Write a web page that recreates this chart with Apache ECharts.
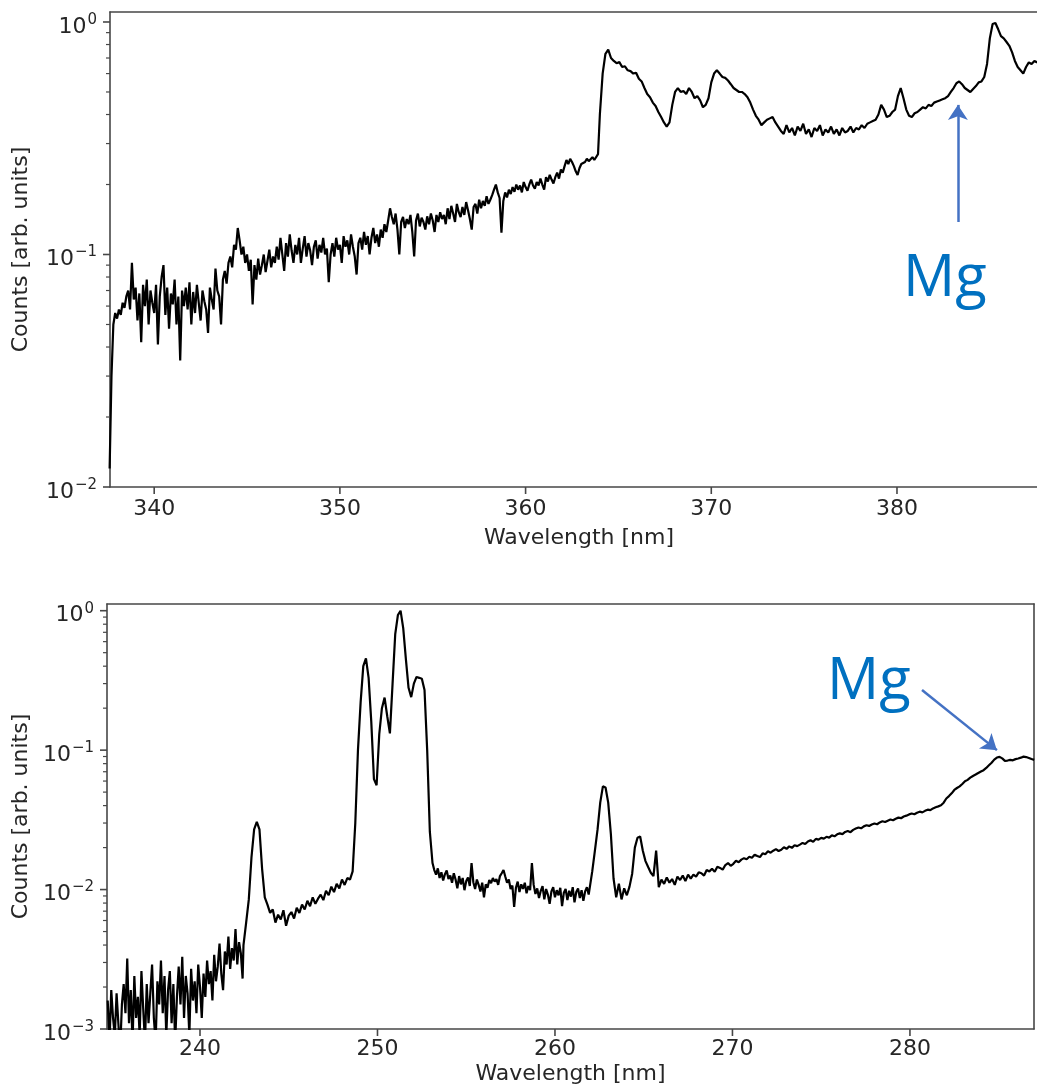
<!DOCTYPE html>
<html><head><meta charset="utf-8">
<script src="https://cdn.jsdelivr.net/npm/echarts@6/dist/echarts.min.js"></script>
<style>html,body{margin:0;padding:0;background:#fff}#c{width:1037px;height:1085px}</style>
</head><body><div id="c"></div>
<script>
// ================= TOP SPECTRUM =================
// segment 1: 337.6 nm .. 363.9 nm, 0.1 nm sampling
const topSeg1Start = 337.6, topSeg1Step = 0.1;
const topSeg1Counts = [
0.012,0.03,0.05,0.056,0.053,0.058,0.055,0.062,0.059,0.066,
0.07,0.058,0.092,0.064,0.072,0.052,0.068,0.042,0.074,0.06,
0.078,0.05,0.07,0.062,0.056,0.074,0.041,0.066,0.08,0.09,
0.055,0.072,0.048,0.068,0.061,0.078,0.05,0.066,0.035,0.07,
0.06,0.072,0.058,0.076,0.05,0.069,0.056,0.074,0.062,0.052,
0.07,0.063,0.058,0.046,0.072,0.064,0.058,0.087,0.07,0.066,
0.05,0.078,0.085,0.075,0.092,0.098,0.088,0.11,0.105,0.13,
0.115,0.1,0.108,0.092,0.1,0.085,0.095,0.061,0.09,0.078,
0.096,0.082,0.09,0.1,0.084,0.094,0.105,0.088,0.098,0.092,
0.108,0.095,0.118,0.1,0.085,0.112,0.098,0.122,0.104,0.092,
0.11,0.1,0.118,0.092,0.106,0.12,0.098,0.112,0.104,0.09,
0.108,0.115,0.096,0.11,0.102,0.118,0.1,0.106,0.076,0.1,
0.112,0.098,0.118,0.105,0.11,0.092,0.12,0.108,0.115,0.1,
0.122,0.108,0.098,0.082,0.112,0.118,0.105,0.125,0.11,0.12,
0.1,0.118,0.13,0.112,0.122,0.108,0.128,0.118,0.135,0.125,
0.14,0.158,0.145,0.135,0.15,0.128,0.1,0.138,0.145,0.13,
0.142,0.135,0.148,0.125,0.098,0.14,0.15,0.132,0.144,0.138,
0.128,0.146,0.135,0.15,0.14,0.125,0.148,0.138,0.152,0.142,
0.148,0.135,0.158,0.142,0.162,0.15,0.138,0.165,0.152,0.145,
0.16,0.148,0.168,0.155,0.142,0.128,0.16,0.165,0.15,0.172,
0.158,0.17,0.162,0.178,0.165,0.172,0.18,0.19,0.2,0.185,
0.175,0.124,0.17,0.185,0.176,0.19,0.182,0.195,0.186,0.2,
0.19,0.198,0.185,0.205,0.195,0.188,0.2,0.21,0.198,0.192,
0.205,0.198,0.212,0.2,0.19,0.215,0.206,0.22,0.21,0.202,
0.215,0.225,0.212,0.232,0.225,0.24,0.255,0.245,0.258,0.25,
0.24,0.228,0.22,0.235,0.245,0.242,0.25,0.258,0.252,0.248,
0.262,0.255,0.26,0.27
];
// segment 2: 364.0 nm .. 387.55 nm, 0.15 nm sampling
const topSeg2Start = 364.0, topSeg2Step = 0.15;
const topSeg2Counts = [
0.4,0.6,0.73,0.76,
0.7,0.68,0.665,0.672,0.64,0.645,0.62,0.615,0.6,0.605,0.57,0.555,0.52,0.49,0.475,0.45,0.435,0.41,0.39,0.37,
0.355,0.37,0.44,0.5,0.52,0.5,0.505,0.49,0.52,0.5,0.47,0.48,0.46,0.43,0.44,0.47,0.55,0.6,0.62,0.6,
0.58,0.575,0.56,0.54,0.52,0.51,0.5,0.5,0.49,0.475,0.45,0.42,0.395,0.38,0.36,0.37,0.38,0.385,0.39,0.37,
0.355,0.34,0.33,0.36,0.335,0.35,0.325,0.355,0.34,0.365,0.33,0.345,0.32,0.35,0.34,0.36,0.325,0.345,0.335,0.355,
0.33,0.345,0.325,0.35,0.335,0.34,0.355,0.335,0.35,0.345,0.36,0.35,0.365,0.37,0.375,0.38,0.4,0.44,0.42,0.39,
0.395,0.41,0.42,0.48,0.52,0.47,0.42,0.395,0.39,0.405,0.41,0.42,0.43,0.425,0.44,0.435,0.45,0.455,0.46,0.465,
0.47,0.48,0.5,0.52,0.545,0.555,0.54,0.52,0.51,0.5,0.515,0.53,0.55,0.555,0.58,0.66,0.85,0.98,0.99,0.93,
0.87,0.85,0.82,0.79,0.74,0.68,0.64,0.62,0.6,0.64,0.67,0.66,0.68,0.67
];
// ================= BOTTOM SPECTRUM =================
// segment 1: 234.8 .. 242.4 nm, 0.1 nm
const botSeg1Start = 234.8, botSeg1Step = 0.1;
const botSeg1Counts = [
0.0016,0.0008,0.0019,0.0012,0.0009,0.0018,0.0011,0.0007,0.0015,0.0021,
0.0013,0.0032,0.0011,0.0019,0.0008,0.0024,0.0012,0.0017,0.0009,0.0026,
0.0014,0.0008,0.0021,0.0011,0.0018,0.0029,0.0012,0.0008,0.0022,0.0015,
0.0031,0.0013,0.0024,0.0009,0.0019,0.0026,0.0011,0.0021,0.0008,0.0017,
0.0028,0.0015,0.0033,0.0012,0.0024,0.0018,0.0009,0.0027,0.0016,0.0022,
0.0013,0.0029,0.002,0.0012,0.0025,0.0017,0.0031,0.0021,0.0026,0.0016,
0.0034,0.0022,0.0028,0.0041,0.0025,0.0019,0.0036,0.0029,0.0046,0.0027,
0.0038,0.0031,0.0052,0.0029,0.0042,0.0035,0.0023
];
// segment 2: 242.45 .. 253.1 nm, 0.15 nm
const botSeg2Start = 242.45, botSeg2Step = 0.15;
const botSeg2Counts = [
0.004,0.0058,0.0085,0.017,0.027,0.0306,0.027,0.014,0.0088,
0.0078,0.0068,0.0072,0.0058,0.0066,0.0061,0.0071,0.0055,0.0065,0.0069,0.0062,0.0074,0.0068,0.0078,0.0072,0.0083,0.0076,0.0088,0.0079,0.0086,
0.0092,0.0084,0.0098,0.0091,0.0105,0.0096,0.011,0.0102,0.0118,0.0108,0.0121,0.0118,0.0135,0.03,0.1,0.22,0.4,0.455,0.33,0.16,
0.062,0.056,0.13,0.2,0.238,0.175,0.132,0.3,0.68,0.93,1.0,0.75,0.45,0.28,0.24,0.3,0.335,0.33,0.325,0.27,
0.1,0.026,0.0155
];
// segment 3: 253.2 .. 261.9 nm, 0.1 nm
const botSeg3Start = 253.2, botSeg3Step = 0.1;
const botSeg3Counts = [
0.0138,0.0128,0.0142,0.0121,0.0133,0.0116,0.0129,0.0137,0.0119,0.0126,
0.0112,0.0131,0.0118,0.0102,0.0125,0.0109,0.0121,0.0099,0.0115,0.0122,
0.0106,0.0155,0.0113,0.0101,0.0118,0.0108,0.0097,0.0112,0.0088,0.0109,
0.0103,0.0117,0.0111,0.0121,0.0114,0.0119,0.0108,0.0125,0.0131,0.0138,
0.0124,0.0112,0.0118,0.0101,0.0107,0.0075,0.0103,0.0114,0.0096,0.0109,
0.0101,0.0112,0.0094,0.0106,0.0099,0.0155,0.0108,0.0093,0.0102,0.0087,
0.0098,0.0106,0.0085,0.0101,0.0092,0.0079,0.0097,0.0104,0.0088,0.0099,
0.0091,0.0103,0.0076,0.0095,0.0101,0.0084,0.0098,0.0089,0.0104,0.0081,
0.0096,0.0102,0.0087,0.0099,0.0083,0.0097,0.0104,0.0092
];
// segment 4: 262.1 .. 287.0 nm, 0.15 nm
const botSeg4Start = 262.1, botSeg4Step = 0.15;
const botSeg4Counts = [
0.0135,0.019,0.027,0.042,0.055,0.054,0.042,0.025,0.012,0.0088,0.011,0.0085,0.0102,0.0091,0.0105,0.013,0.02,0.0235,
0.024,0.019,0.016,0.0145,0.0132,0.0125,0.019,0.0104,0.0118,0.011,0.0122,0.0112,0.0119,0.0108,0.0124,0.0117,0.0126,0.0115,0.0128,0.012,
0.0128,0.0124,0.0133,0.0131,0.0126,0.0138,0.0135,0.0141,0.0134,0.0146,0.0143,0.0139,0.015,0.0155,0.0148,0.0153,0.0161,0.0157,0.0164,0.0168,
0.0165,0.0172,0.0169,0.0178,0.0174,0.0171,0.0182,0.0179,0.0188,0.0184,0.019,0.0195,0.0189,0.0193,0.0201,0.0196,0.0204,0.0199,0.0208,0.0205,
0.021,0.0216,0.0212,0.0221,0.0226,0.022,0.0231,0.0228,0.0235,0.0232,0.0239,0.0236,0.0245,0.0241,0.0249,0.0253,0.025,0.0259,0.0263,0.0258,
0.0268,0.0274,0.0279,0.0275,0.0284,0.0289,0.0286,0.0293,0.0298,0.0294,0.0303,0.0309,0.0305,0.0312,0.0318,0.0314,0.0322,0.0328,0.0325,0.0334,
0.0339,0.0346,0.0351,0.0347,0.0356,0.0362,0.0358,0.0367,0.0374,0.0371,0.0382,0.0389,0.0395,0.0402,0.042,0.045,0.0468,0.049,0.0518,0.0535,
0.055,0.0572,0.0598,0.0612,0.0635,0.0652,0.0668,0.0685,0.0702,0.0718,0.0745,0.0778,0.0812,0.0855,0.0885,0.0895,0.0872,0.0838,0.0842,0.0851,
0.0845,0.0862,0.0871,0.0883,0.0898,0.0892,0.0879,0.0864,0.0852
];
// ================= AXES =================
const topXRange = [337.62, 387.54];
const topYRange = [0.01, 1.104];
const botXRange = [234.76, 286.99];
const botYRange = [0.001, 1.117];
const topXTicks = [340, 350, 360, 370, 380];
const botXTicks = [240, 250, 260, 270, 280];
const topYMajor = [0.01, 0.1, 1];
const botYMajor = [0.001, 0.01, 0.1, 1];
const topYMinor = [0.02,0.03,0.04,0.05,0.06,0.07,0.08,0.09,0.2,0.3,0.4,0.5,0.6,0.7,0.8,0.9];
const botYMinor = [0.002,0.003,0.004,0.005,0.006,0.007,0.008,0.009,0.02,0.03,0.04,0.05,0.06,0.07,0.08,0.09,0.2,0.3,0.4,0.5,0.6,0.7,0.8,0.9];
// ================= ANNOTATIONS (data coordinates) =================
const topMgArrow = [[383.28, 0.138], [383.28, 0.44]];
const topMgText = [382.58, 0.0778];
const botMgArrow = [[280.68, 0.27], [284.9, 0.1]];
const botMgText = [277.69, 0.308];

const TXT = '#262626', SPINE = '#474747', FONT = 'DejaVu Sans';

function seg(start, step, arr) { return arr.map((v, i) => [+(start + i * step).toFixed(3), v]); }
const topData = seg(topSeg1Start, topSeg1Step, topSeg1Counts).concat(seg(topSeg2Start, topSeg2Step, topSeg2Counts));
const botData = seg(botSeg1Start, botSeg1Step, botSeg1Counts)
  .concat(seg(botSeg2Start, botSeg2Step, botSeg2Counts))
  .concat(seg(botSeg3Start, botSeg3Step, botSeg3Counts))
  .concat(seg(botSeg4Start, botSeg4Step, botSeg4Counts));

const measureCtx = document.createElement('canvas').getContext('2d');
function textWidth(s, size) { measureCtx.font = size + 'px "' + FONT + '"'; return measureCtx.measureText(s).width; }

function xAxisCfg(gi, range, gap, shift) {
  return {
    gridIndex: gi, type: 'value', min: range[0], max: range[1], position: 'bottom',
    axisLine: { show: true, onZero: false, lineStyle: { color: SPINE, width: 1.6 } },
    axisTick: { show: false }, splitLine: { show: false }, axisLabel: { show: false },
    name: 'Wavelength [nm]', nameLocation: 'middle', nameGap: gap,
    nameTextStyle: { fontSize: 22, fontFamily: FONT, color: TXT, padding: [0, 0, 0, shift] }
  };
}
function topSpine(gi, range) {
  return {
    gridIndex: gi, type: 'value', min: range[0], max: range[1], position: 'top',
    axisLine: { show: true, onZero: false, lineStyle: { color: SPINE, width: 1.6 } },
    axisTick: { show: false }, axisLabel: { show: false }, splitLine: { show: false }
  };
}
function yAxisCfg(gi, range, gap) {
  return {
    gridIndex: gi, type: 'log', logBase: 10, min: range[0], max: range[1], position: 'left',
    axisLine: { show: true, onZero: false, lineStyle: { color: SPINE, width: 1.6 } },
    axisTick: { show: false }, splitLine: { show: false }, minorTick: { show: false }, axisLabel: { show: false },
    name: 'Counts [arb. units]', nameLocation: 'middle', nameGap: gap, nameRotate: 90,
    nameTextStyle: { fontSize: 22, fontFamily: FONT, color: TXT }
  };
}
function rightSpine(gi, range) {
  return {
    gridIndex: gi, type: 'log', logBase: 10, min: range[0], max: range[1], position: 'right',
    axisLine: { show: true, onZero: false, lineStyle: { color: SPINE, width: 1.6 } },
    axisTick: { show: false }, axisLabel: { show: false }, splitLine: { show: false }
  };
}
function txt(x, y, s, size, align) {
  return { type: 'text', x: x, y: y, style: { text: s, fill: TXT, fontSize: size, fontFamily: FONT,
    align: align, verticalAlign: 'middle', textAlign: align, textVerticalAlign: 'middle' } };
}
// ticks + tick labels, positioned through the axes' own scales
function tickSeries(idx, xr, yr, xt, ymaj, ymin, xLabOff) {
  const data = [];
  xt.forEach(t => data.push([t, yr[0], 0]));
  ymaj.forEach(t => data.push([xr[0], t, 1]));
  ymin.forEach(t => data.push([xr[0], t, 2]));
  const st = { stroke: SPINE, lineWidth: 1.6 };
  return {
    type: 'custom', xAxisIndex: idx, yAxisIndex: idx, silent: true, clip: false, z: 6,
    encode: { x: 0, y: 1 }, data: data,
    renderItem: (params, api) => {
      const p = api.coord([api.value(0), api.value(1)]);
      const k = api.value(2);
      if (k === 0) {
        return { type: 'group', children: [
          { type: 'line', shape: { x1: p[0], y1: p[1], x2: p[0], y2: p[1] + 7 }, style: st },
          txt(p[0], p[1] + xLabOff, String(Math.round(api.value(0))), 22, 'center')
        ] };
      }
      if (k === 1) {
        const r = Math.round(Math.log10(api.value(1)));
        const sup = r < 0 ? '\u2212' + (-r) : String(r);
        const sw = textWidth(sup, 15);
        const right = p[0] - 13;
        return { type: 'group', children: [
          { type: 'line', shape: { x1: p[0] - 7, y1: p[1], x2: p[0], y2: p[1] }, style: st },
          txt(right - sw - 1, p[1] + 5, '10', 22, 'right'),
          txt(right, p[1] - 2, sup, 15, 'right')
        ] };
      }
      return { type: 'line', shape: { x1: p[0] - 4, y1: p[1], x2: p[0], y2: p[1] }, style: { stroke: SPINE, lineWidth: 1.2 } };
    }
  };
}
function lineSeries(idx, data, arrow, txtPos) {
  return {
    type: 'line', xAxisIndex: idx, yAxisIndex: idx, data: data, showSymbol: false, symbol: 'none',
    lineStyle: { color: '#000', width: 2.2 }, clip: true, z: 3, animation: false,
    markLine: {
      silent: true, symbol: ['none', 'arrow'], symbolSize: 15, animation: false,
      lineStyle: { color: '#4472C4', width: 2.5, type: 'solid' }, label: { show: false },
      data: [[{ coord: arrow[0] }, { coord: arrow[1] }]]
    },
    markPoint: {
      silent: true, symbol: 'circle', symbolSize: 1, itemStyle: { color: 'rgba(0,0,0,0)' }, animation: false,
      label: { show: true, position: 'inside', formatter: 'Mg', fontSize: 58, color: '#0070C0', fontFamily: 'Open Sans' },
      data: [{ coord: txtPos }]
    }
  };
}

const chart = echarts.init(document.getElementById('c'), null, { renderer: 'canvas' });
chart.setOption({
  backgroundColor: '#fff',
  animation: false,
  grid: [
    { left: 110, top: 12, width: 927, height: 475, show: false, outerBoundsMode: 'none', containLabel: false },
    { left: 107, top: 604, width: 927, height: 425, show: false, outerBoundsMode: 'none', containLabel: false }
  ],
  xAxis: [xAxisCfg(0, topXRange, 40, 11), xAxisCfg(1, botXRange, 34, 0), topSpine(0, topXRange), topSpine(1, botXRange)],
  yAxis: [yAxisCfg(0, topYRange, 78), yAxisCfg(1, botYRange, 75), rightSpine(1, botYRange)],
  series: [
    lineSeries(0, topData, topMgArrow, topMgText),
    lineSeries(1, botData, botMgArrow, botMgText),
    tickSeries(0, topXRange, topYRange, topXTicks, topYMajor, topYMinor, 22.5),
    tickSeries(1, botXRange, botYRange, botXTicks, botYMajor, botYMinor, 20)
  ]
});
</script></body></html>
